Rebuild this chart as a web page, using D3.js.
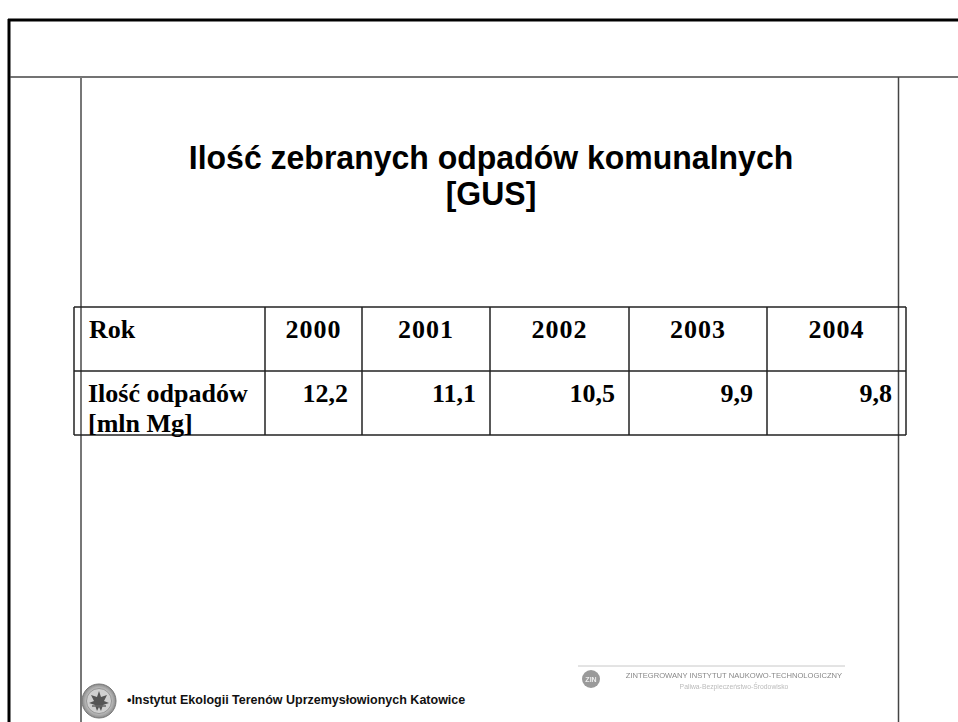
<!DOCTYPE html>
<html>
<head>
<meta charset="utf-8">
<script src="https://cdn.jsdelivr.net/npm/d3@7"></script>
<style>
  html, body { margin: 0; padding: 0; background: #fff; }
  svg { display: block; }
</style>
</head>
<body>
<script>
// ---- data ----
const titleLines = ["Ilość zebranych odpadów komunalnych", "[GUS]"];
const headerLabel = "Rok";
const years = ["2000", "2001", "2002", "2003", "2004"];
const rowLabelLines = ["Ilość odpadów", "[mln Mg]"];
const values = [12.2, 11.1, 10.5, 9.9, 9.8];
const footerLeft = "•Instytut Ekologii Terenów Uprzemysłowionych Katowice";
const footerRight = ["ZINTEGROWANY INSTYTUT NAUKOWO-TECHNOLOGICZNY", "Paliwa-Bezpieczeństwo-Środowisko"];

// ---- layout ----
const W = 958, H = 722;
const svg = d3.select("body").append("svg").attr("width", W).attr("height", H);
svg.append("rect").attr("width", W).attr("height", H).attr("fill", "#fff");
const defs = svg.append("defs");

// slide frame
svg.append("line").attr("x1", 8).attr("x2", W).attr("y1", 20).attr("y2", 20).attr("stroke", "#000").attr("stroke-width", 3);
svg.append("line").attr("x1", 9).attr("x2", 9).attr("y1", 19).attr("y2", H).attr("stroke", "#000").attr("stroke-width", 3);
svg.append("line").attr("x1", 10).attr("x2", W).attr("y1", 77).attr("y2", 77).attr("stroke", "#444").attr("stroke-width", 1.5);
svg.append("line").attr("x1", 81).attr("x2", 81).attr("y1", 77).attr("y2", H).attr("stroke", "#777").attr("stroke-width", 2);
svg.append("line").attr("x1", 898.5).attr("x2", 898.5).attr("y1", 77).attr("y2", H).attr("stroke", "#444").attr("stroke-width", 1.5);

// title
svg.append("g").selectAll("text").data(titleLines).join("text")
  .attr("transform", (d, i) => `translate(491,${169 + i * 36}) scale(1,1.06)`)
  .attr("text-anchor", "middle")
  .attr("font-family", "'Liberation Sans', Arial, sans-serif")
  .attr("font-weight", "bold").attr("font-size", 32).attr("fill", "#000")
  .text(d => d);

// table scales
const columns = ["label"].concat(years);
const colEdges = [74, 265, 362, 490, 629, 767, 906];
const xLeft = d3.scaleOrdinal().domain(columns).range(colEdges.slice(0, 6));
const xRight = d3.scaleOrdinal().domain(columns).range(colEdges.slice(1));
const rows = ["header", "data"];
const yScale = d3.scaleBand().domain(rows).range([307, 435]);

const tbl = svg.append("g");
const serif = "'Liberation Serif', 'Times New Roman', serif";
const fs = 26;

// cell borders
tbl.selectAll("line.v").data(colEdges).join("line")
  .attr("x1", d => d).attr("x2", d => d)
  .attr("y1", yScale.range()[0]).attr("y2", yScale.range()[1])
  .attr("stroke", "#222").attr("stroke-width", 1.5);
tbl.selectAll("line.h").data([307, yScale("data"), 435]).join("line")
  .attr("x1", colEdges[0]).attr("x2", colEdges[6])
  .attr("y1", d => d).attr("y2", d => d)
  .attr("stroke", "#222").attr("stroke-width", 1.5);

// header row
tbl.append("text").attr("x", xLeft("label") + 15).attr("y", yScale("header") + 31)
  .attr("font-family", serif).attr("font-weight", "bold").attr("font-size", fs)
  .text(headerLabel);
tbl.selectAll("text.year").data(years).join("text").attr("class", "year")
  .attr("x", d => (xLeft(d) + xRight(d)) / 2)
  .attr("y", yScale("header") + 31)
  .attr("text-anchor", "middle")
  .attr("letter-spacing", 1)
  .attr("font-family", serif).attr("font-weight", "bold").attr("font-size", fs)
  .text(d => d);

// data row
tbl.selectAll("text.rl").data(rowLabelLines).join("text").attr("class", "rl")
  .attr("x", xLeft("label") + 14)
  .attr("y", (d, i) => yScale("data") + 31 + i * 30)
  .attr("font-family", serif).attr("font-weight", "bold").attr("font-size", fs)
  .text(d => d);
const fmt = v => d3.format(".1f")(v).replace(".", ",");
tbl.selectAll("text.val").data(values).join("text").attr("class", "val")
  .attr("x", (d, i) => xRight(years[i]) - 14)
  .attr("y", yScale("data") + 31)
  .attr("text-anchor", "end")
  .attr("font-family", serif).attr("font-weight", "bold").attr("font-size", fs)
  .text(d => fmt(d));

// footer left: seal logo
const grad = defs.append("radialGradient").attr("id", "sealg");
grad.append("stop").attr("offset", "0%").attr("stop-color", "#e0e0e0");
grad.append("stop").attr("offset", "75%").attr("stop-color", "#bcbcbc");
grad.append("stop").attr("offset", "100%").attr("stop-color", "#8a8a8a");
const seal = svg.append("g").attr("transform", "translate(99,701)");
seal.append("circle").attr("r", 17).attr("fill", "url(#sealg)").attr("stroke", "#777").attr("stroke-width", 1);
seal.append("circle").attr("r", 12.5).attr("fill", "#d0d0d0").attr("stroke", "#888").attr("stroke-width", 0.8);
seal.append("path")
  .attr("d", "M0,-10 L2,-4 L8,-6 L5,0 L10,2 L4,4 L2,10 L0,6 L-2,10 L-4,4 L-10,2 L-5,0 L-8,-6 L-2,-4 Z")
  .attr("fill", "#555");
seal.append("line").attr("x1", -7).attr("x2", 7).attr("y1", 5).attr("y2", 5).attr("stroke", "#666").attr("stroke-width", 1.5);

svg.append("text").attr("x", 127).attr("y", 704)
  .attr("font-family", "'Liberation Sans', Arial, sans-serif")
  .attr("font-weight", "bold").attr("font-size", 12.5).attr("fill", "#111")
  .text(footerLeft);

// footer right: ZIN logo
const blur = defs.append("filter").attr("id", "bl");
blur.append("feGaussianBlur").attr("stdDeviation", 0.5);
const rg = svg.append("g").attr("filter", "url(#bl)");
rg.append("line").attr("x1", 578).attr("x2", 845).attr("y1", 666).attr("y2", 666).attr("stroke", "#c8c8c8").attr("stroke-width", 1);
rg.append("circle").attr("cx", 591).attr("cy", 679).attr("r", 9).attr("fill", "#9a9a9a");
rg.append("text").attr("x", 591).attr("y", 681.5).attr("text-anchor", "middle")
  .attr("font-family", "'Liberation Sans', Arial, sans-serif").attr("font-weight", "bold")
  .attr("font-size", 7).attr("fill", "#eee").text("ZIN");
rg.selectAll("text.fr").data(footerRight).join("text").attr("class", "fr")
  .attr("x", 734).attr("y", (d, i) => 678 + i * 11)
  .attr("text-anchor", "middle")
  .attr("font-family", "'Liberation Sans', Arial, sans-serif")
  .attr("font-size", (d, i) => i === 0 ? 7.6 : 6.8)
  .attr("fill", (d, i) => i === 0 ? "#888" : "#bbb")
  .text(d => d);
</script>
</body>
</html>
